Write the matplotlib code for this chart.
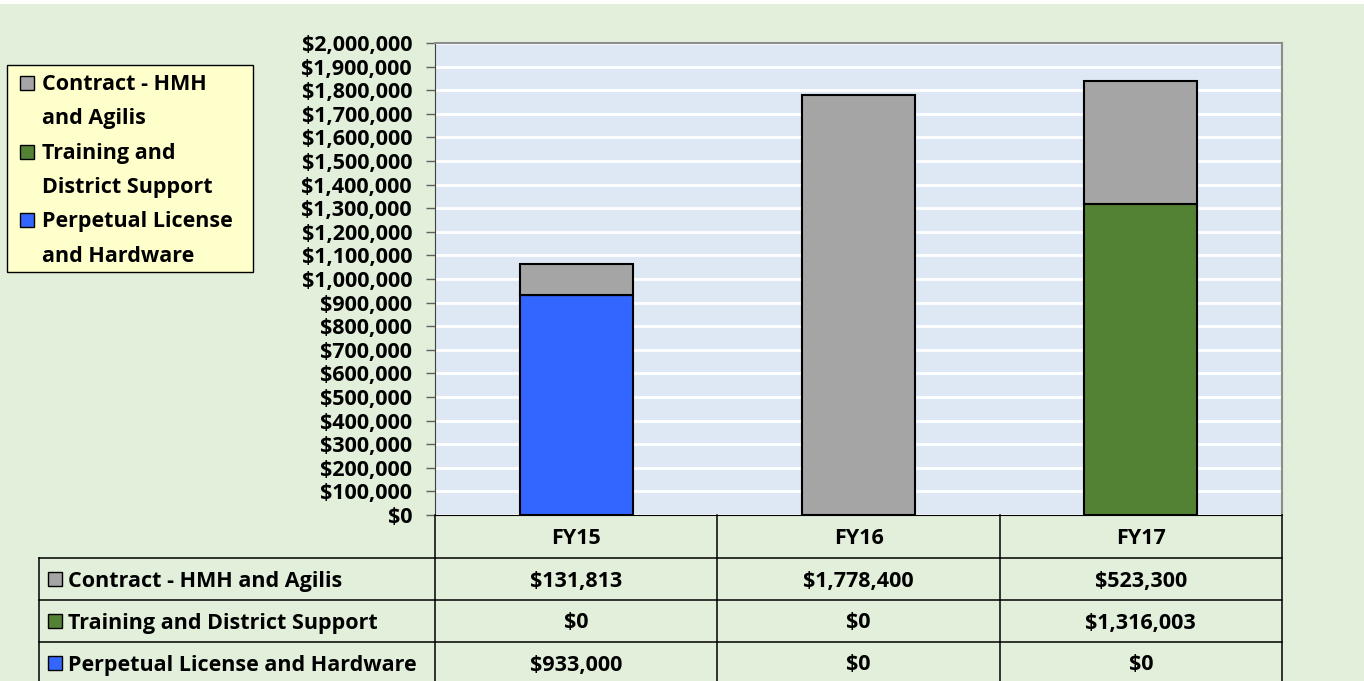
import numpy as np
import matplotlib
matplotlib.use('Agg')
import matplotlib.pyplot as plt
from matplotlib.patches import Rectangle
from matplotlib.ticker import FuncFormatter, MultipleLocator

# data
years = ['FY15', 'FY16', 'FY17']
series_names = ['Contract - HMH and Agilis', 'Training and District Support',
                'Perpetual License and Hardware']
contract = [131813, 1778400, 523300]
training = [0, 0, 1316003]
perpetual = [933000, 0, 0]
legend_labels = [['Contract - HMH', 'and Agilis'],
                 ['Training and', 'District Support'],
                 ['Perpetual License', 'and Hardware']]

# colors
c_contract = '#A5A5A5'
c_training = '#548235'
c_perpetual = '#3366FF'
bg = '#E2EFDA'
plot_bg = '#DDE8F4'
FS = 15.5

plt.rcParams['font.family'] = ['Open Sans', 'DejaVu Sans']
plt.rcParams['font.weight'] = 'bold'

W, H = 1364, 681
fig = plt.figure(figsize=(13.64, 6.81), dpi=100)
fig.patch.set_facecolor(bg)

# plot area in pixels
px_l, px_r, px_t, px_b = 435, 1282, 43, 515
ax = fig.add_axes([px_l / W, (H - px_b) / H, (px_r - px_l) / W, (px_b - px_t) / H])
ax.set_facecolor(plot_bg)

x = np.arange(len(years))
bw = 0.40
ax.bar(x, perpetual, bw, color=c_perpetual, edgecolor='black', linewidth=1.5, zorder=3)
ax.bar(x, training, bw, bottom=perpetual, color=c_training, edgecolor='black',
       linewidth=1.5, zorder=3)
bottom2 = np.array(perpetual) + np.array(training)
ax.bar(x, contract, bw, bottom=bottom2, color=c_contract, edgecolor='black',
       linewidth=1.5, zorder=3)

ax.set_xlim(-0.5, len(years) - 0.5)
ax.set_ylim(0, 2000000)
ax.yaxis.set_major_locator(MultipleLocator(100000))
ax.yaxis.set_major_formatter(FuncFormatter(lambda v, p: '${:,.0f}'.format(v)))
ax.grid(axis='y', color='white', linewidth=2, zorder=1)
ax.set_axisbelow(True)
ax.set_xticks([])
ax.tick_params(axis='y', length=6.5, width=1, color='#606060', labelsize=FS, pad=10)
for lab in ax.get_yticklabels():
    lab.set_fontweight('bold')
for s in ['top', 'right']:
    ax.spines[s].set_color('#8C8C8C')
    ax.spines[s].set_linewidth(1.5)
ax.spines['left'].set_color('#404040')
ax.spines['bottom'].set_color('black')

# overlay axes in pixel coordinates for legend and data table
tab = fig.add_axes([0, 0, 1, 1], zorder=5)
tab.set_xlim(0, W)
tab.set_ylim(H, 0)
tab.axis('off')
tab.patch.set_alpha(0)

row_colors = [c_contract, c_training, c_perpetual]

# legend box
tab.add_patch(Rectangle((7, 65), 246, 207, facecolor='#FFFFCC', edgecolor='black',
                        lw=1))
line_gap = 34.3
for k, (lines, c) in enumerate(zip(legend_labels, row_colors)):
    base = 90 + 2 * k * line_gap
    tab.add_patch(Rectangle((20, base - 14), 14, 14, facecolor=c,
                            edgecolor='black', lw=1))
    for j, ln in enumerate(lines):
        tab.text(42, base + j * line_gap, ln, ha='left', va='baseline',
                 fontsize=FS, fontweight='bold')

# data table
col_w = (px_r - px_l) / len(years)
lab_l = 39
row_h = 42
head_b = 558
rows = [contract, training, perpetual]
lw = 1.1

for i in range(len(years) + 1):
    xx = px_l + i * col_w
    tab.plot([xx, xx], [px_b, H + 5], color='black', lw=lw)
tab.plot([lab_l, lab_l], [head_b, H + 5], color='black', lw=lw)
for r in range(len(rows)):
    yy = head_b + r * row_h
    tab.plot([lab_l, px_r], [yy, yy], color='black', lw=lw)

for i, y in enumerate(years):
    tab.text(px_l + (i + 0.5) * col_w, (px_b + head_b) / 2 + 7.5, y, ha='center',
             va='baseline', fontsize=FS, fontweight='bold')

for r, (vals, name, c) in enumerate(zip(rows, series_names, row_colors)):
    yc = head_b + (r + 0.5) * row_h
    tab.add_patch(Rectangle((48, yc - 7), 14, 14, facecolor=c, edgecolor='black',
                            lw=1))
    tab.text(68, yc + 7.5, name, ha='left', va='baseline', fontsize=FS,
             fontweight='bold')
    for i, v in enumerate(vals):
        tab.text(px_l + (i + 0.5) * col_w, yc + 7.5, '${:,.0f}'.format(v),
                 ha='center', va='baseline', fontsize=FS, fontweight='bold')

# white strip at the very top (cut-off title area)
tab.add_patch(Rectangle((0, 0), W, 4, facecolor='white', edgecolor='none'))

fig.savefig('out.png', dpi=100, facecolor=fig.get_facecolor())
